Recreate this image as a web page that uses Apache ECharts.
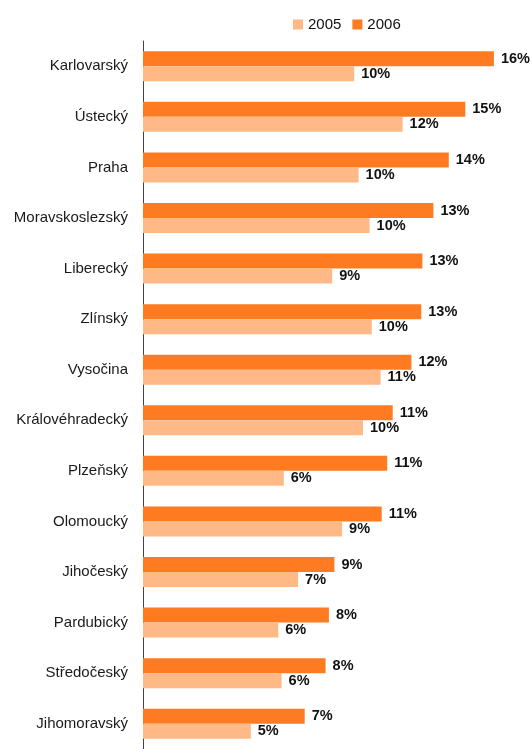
<!DOCTYPE html>
<html>
<head>
<meta charset="utf-8">
<script src="https://cdn.jsdelivr.net/npm/echarts@6/dist/echarts.min.js"></script>
<style>
	html, body { margin: 0; padding: 0; background: #fff; }
	#main { width: 532px; height: 749px; }
</style>
</head>
<body>
<div id="main"></div>
<script>
	// kraje, shora dolu
	var regions = ['Karlovarský', 'Ústecký', 'Praha', 'Moravskoslezský', 'Liberecký', 'Zlínský', 'Vysočina',
		'Královéhradecký', 'Plzeňský', 'Olomoucký', 'Jihočeský', 'Pardubický', 'Středočeský', 'Jihomoravský'];
	// hodnoty v %
	var values2005 = [9.6, 11.8, 9.8, 10.3, 8.6, 10.4, 10.8, 10.0, 6.4, 9.05, 7.05, 6.15, 6.3, 4.9];
	var values2006 = [15.95, 14.65, 13.9, 13.2, 12.7, 12.65, 12.2, 11.35, 11.1, 10.85, 8.7, 8.45, 8.3, 7.35];
	var seriesNames = ['2005', '2006'];

	var chart = echarts.init(document.getElementById('main'));

	var valueLabel = {
		show: true,
		position: 'right',
		distance: 7,
		color: '#111',
		fontWeight: 'bold',
		fontSize: 14.5,
		fontFamily: 'Liberation Sans, Arial, sans-serif',
		formatter: function(p) {
			return Math.round(p.value) + '%';
		}
	};

	chart.setOption({
		animation: false,
		textStyle: { fontFamily: 'Liberation Sans, Arial, sans-serif' },
		legend: {
			data: seriesNames,
			icon: 'rect',
			left: 288,
			top: 12,
			itemWidth: 10,
			itemHeight: 10,
			itemGap: 11,
			textStyle: { fontSize: 15, color: '#111' }
		},
		grid: {
			left: 143,
			right: 15,
			top: 41,
			bottom: -4,
			containLabel: false
		},
		xAxis: {
			type: 'value',
			min: 0,
			max: 17,
			show: false
		},
		yAxis: {
			type: 'category',
			inverse: true,
			data: regions,
			axisLine: { lineStyle: { color: '#444', width: 1 } },
			axisTick: { length: 5, lineStyle: { color: '#444' } },
			axisLabel: { margin: 15, fontSize: 15, color: '#1a1a1a' }
		},
		// 2006 nahore v kazde skupine
		series: [{
			name: seriesNames[1],
			type: 'bar',
			data: values2006,
			barWidth: 15,
			barGap: '0%',
			itemStyle: { color: '#FF7B22' },
			label: valueLabel
		}, {
			name: seriesNames[0],
			type: 'bar',
			data: values2005,
			barWidth: 15,
			barGap: '0%',
			itemStyle: { color: '#FFB986' },
			label: valueLabel
		}]
	});
</script>
</body>
</html>
